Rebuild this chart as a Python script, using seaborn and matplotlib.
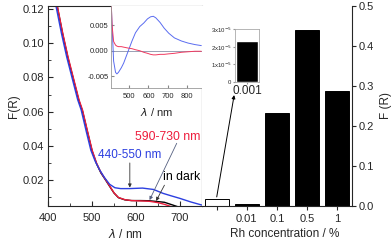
import numpy as np
import pandas as pd
import seaborn as sns
import matplotlib.pyplot as plt
from matplotlib.ticker import MultipleLocator, FixedLocator

# ---- data ----
# main spectra (F(R) vs wavelength)
wl_red = [412, 420, 427, 433, 445, 457, 470, 478, 490, 500, 510, 520, 530, 540, 550, 560,
          575, 590, 610, 630, 650, 665, 680, 700]
fr_red = [0.140, 0.1225, 0.1135, 0.1058, 0.092, 0.080, 0.067, 0.061, 0.048, 0.0375, 0.030,
          0.0245, 0.0205, 0.0165, 0.0125, 0.0098, 0.0085, 0.0080, 0.0078, 0.0076, 0.0068,
          0.0058, 0.0045, 0.0035]
wl_dark = [412, 420, 427, 433, 445, 457, 470, 478, 490, 500, 510, 520, 530, 540, 550, 560,
           575, 590, 610, 630, 650, 665, 685, 700]
fr_dark = [0.140, 0.1222, 0.1130, 0.1052, 0.0913, 0.0793, 0.0663, 0.0604, 0.0475, 0.0370,
           0.0296, 0.0242, 0.0203, 0.0163, 0.0124, 0.0097, 0.0084, 0.0080, 0.0080, 0.0079,
           0.0074, 0.0070, 0.0053, 0.0040]
wl_blue = [409, 417, 424, 430, 442, 454, 467, 475, 487, 497, 507, 517, 528, 540, 552, 565,
           585, 615, 640, 662, 680, 700, 725, 750]
fr_blue = [0.140, 0.1225, 0.1135, 0.1058, 0.092, 0.080, 0.067, 0.061, 0.048, 0.0375, 0.031,
           0.026, 0.0215, 0.0175, 0.0155, 0.0150, 0.0150, 0.0153, 0.0145, 0.0122, 0.0108,
           0.0093, 0.0072, 0.0054]

# inset difference spectra
wl_ins = [405, 412, 420, 430, 437, 445, 460, 472, 485, 498, 515, 533, 555, 576, 595, 611,
          625, 638, 660, 681, 705, 734, 770, 804, 840, 873]
d_blue = [0.012, 0.005, -0.002, -0.0042, -0.0045, -0.0042, -0.0033, -0.0024, -0.0011, 0.0002,
          0.0019, 0.0035, 0.0047, 0.0054, 0.0062, 0.0066, 0.0067, 0.0064, 0.0055, 0.0044,
          0.0034, 0.0025, 0.0019, 0.0015, 0.0012, 0.0010]
d_red = [0.012, 0.005, 0.0018, 0.0011, 0.0009, 0.0008, 0.0008, 0.0007, 0.0006, 0.0005,
         0.0004, 0.0002, 0.0000, -0.0003, -0.0005, -0.0007, -0.0008, -0.0008, -0.0007,
         -0.0007, -0.0006, -0.0005, -0.0003, -0.0002, -0.0001, -0.0001]

# bar chart
rh_conc = ['0.001', '0.01', '0.1', '0.5', '1']
rh_labels = ['', '0.01', '0.1', '0.5', '1']
rh_fr = [0.018, 0.005, 0.233, 0.44, 0.286]
inset_val = [2.35e-5]

sns.set_style('ticks')
plt.rcParams['font.family'] = ['Liberation Sans', 'DejaVu Sans']
plt.rcParams['axes.linewidth'] = 0.8

RED = '#ee1c3c'
BLUE = '#2c3fe0'

W, H = 392, 241
fig = plt.figure(figsize=(W / 100, H / 100), dpi=100)

def box(l, t, r, b):
    return [l / W, (H - b) / H, (r - l) / W, (b - t) / H]

# ---- left panel: spectra ----
ax = fig.add_axes(box(48.3, 6, 201.7, 205.7))
sns.lineplot(x=wl_dark, y=fr_dark, ax=ax, color='black', lw=1.0, sort=False)
sns.lineplot(x=wl_red, y=fr_red, ax=ax, color=RED, lw=1.0, sort=False)
sns.lineplot(x=wl_blue, y=fr_blue, ax=ax, color=BLUE, lw=1.0, sort=False)
ax.set_xlim(400, 750)
ax.set_ylim(0.005, 0.1218)
ax.xaxis.set_major_locator(MultipleLocator(100))
ax.xaxis.set_minor_locator(MultipleLocator(50))
ax.yaxis.set_major_locator(FixedLocator([0.02, 0.04, 0.06, 0.08, 0.10, 0.12]))
ax.yaxis.set_minor_locator(MultipleLocator(0.01))
ax.yaxis.set_major_formatter(lambda v, p: f'{v:.2f}')
ax.tick_params(which='both', direction='in', labelsize=8, pad=3)
ax.tick_params(axis='x', pad=5)
ax.tick_params(which='major', length=3.5)
ax.tick_params(which='minor', length=2)
ax.set_xlabel(r'$\lambda$ / nm', fontsize=8.5, labelpad=4)
ax.set_ylabel('F(R)', fontsize=8.5, labelpad=2)

arw = dict(arrowstyle='-|>', color='#333333', lw=0.6, mutation_scale=5, shrinkA=0, shrinkB=0)
ax.annotate('', xy=(586, 0.0156), xytext=(586, 0.030), arrowprops=arw)
ax.annotate('', xy=(631, 0.0083), xytext=(693, 0.0415), arrowprops=dict(arw, color='#556080'))
ax.annotate('', xy=(646, 0.0078), xytext=(665, 0.017), arrowprops=arw)
ax.text(586, 0.0346, '440-550 nm', color=BLUE, fontsize=8.5, ha='center', va='center')
ax.text(673, 0.0454, '590-730 nm', color=RED, fontsize=8.8, ha='center', va='center')
ax.text(705, 0.0218, 'in dark', color='black', fontsize=8.8, ha='center', va='center')

# ---- inset of left panel: difference spectra ----
axi = fig.add_axes(box(110.7, 6, 201.7, 88.3))
axi.axhline(0, color='#8890a8', lw=0.6)
sns.lineplot(x=wl_ins, y=d_blue, ax=axi, color='#5a6cf0', lw=0.7, sort=False)
sns.lineplot(x=wl_ins, y=d_red, ax=axi, color='#f03a60', lw=0.7, sort=False)
axi.set_xlim(405, 875)
axi.set_ylim(-0.0073, 0.0087)
axi.set_xticks([500, 600, 700, 800])
axi.set_yticks([-0.005, 0.0, 0.005])
axi.yaxis.set_major_formatter(lambda v, p: f'{v:.3f}')
axi.tick_params(direction='in', labelsize=5.5, length=2, pad=1.5, color='#888888')
axi.tick_params(axis='x', pad=3.5)
for s in ['top', 'right']:
    axi.spines[s].set_visible(False)
for s in ['left', 'bottom']:
    axi.spines[s].set_color('#999999')
    axi.spines[s].set_linewidth(0.6)
axi.set_xlabel(r'$\lambda$ / nm', fontsize=8, labelpad=4)

# ---- right panel: bars ----
ax2 = fig.add_axes(box(201.7, 6, 352, 205.7))
sns.barplot(x=rh_conc, y=rh_fr, ax=ax2, color='black', width=0.8, saturation=1,
            edgecolor='black', linewidth=0.7)
ax2.patches[0].set_facecolor('white')
ax2.set_xlim(-0.5, 4.5)
ax2.set_ylim(0, 0.5)
ax2.set_xticks(range(len(rh_labels)))
ax2.set_xticklabels(rh_labels)
ax2.yaxis.tick_right()
ax2.yaxis.set_label_position('right')
ax2.yaxis.set_major_locator(MultipleLocator(0.1))
ax2.yaxis.set_major_formatter(lambda v, p: f'{v:.1f}')
ax2.tick_params(labelsize=8, length=3, pad=2)
ax2.tick_params(axis='x', pad=3)
ax2.spines['top'].set_visible(False)
ax2.spines['left'].set_visible(False)
ax2.set_xlabel('Rh concentration / %', fontsize=8.5)
ax2.xaxis.set_label_coords(0.555, -0.11)
ax2.set_ylabel('F (R)', fontsize=8.5, labelpad=4)
ax2.annotate('', xy=(0.58, 0.277), xytext=(0, 0.022),
             arrowprops=dict(arrowstyle='-|>', color='black', lw=0.7, mutation_scale=5,
                             shrinkA=0, shrinkB=0))

# ---- inset of right panel ----
axb = fig.add_axes(box(235, 29.3, 259.3, 81.7))
sns.barplot(x=['0.001'], y=inset_val, ax=axb, color='black', width=0.8, saturation=1)
axb.set_xlim(-0.45, 0.45)
axb.set_ylim(0, 3e-5)
axb.set_yticks([0, 1e-5, 2e-5, 3e-5])
axb.set_yticklabels(['0', r'1x10$^{-5}$', r'2x10$^{-5}$', r'3x10$^{-5}$'])
axb.tick_params(axis='y', labelsize=4.3, length=1.5, pad=1, color='#999999')
axb.tick_params(axis='x', labelsize=8.5, length=1.5, pad=1, color='#999999')
for s in axb.spines.values():
    s.set_color('#aaaaaa')
    s.set_linewidth(0.6)
axb.set_xlabel('')

fig.savefig('out.png', dpi=100)
